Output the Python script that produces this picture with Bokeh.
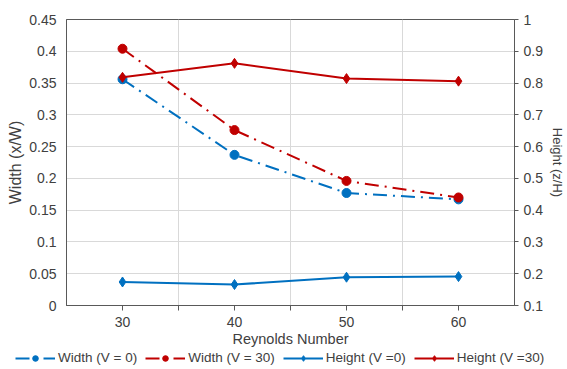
from bokeh.plotting import figure
from bokeh.models import (Range1d, LinearAxis, FixedTicker, Legend, LegendItem,
                          CustomJSTickFormatter)
from bokeh.embed import file_html
from bokeh.resources import INLINE

# ---- data ----
reynolds = [30, 40, 50, 60]
width_v0 = [0.356, 0.237, 0.177, 0.167]
width_v30 = [0.404, 0.276, 0.196, 0.170]
height_v0 = [0.174, 0.166, 0.189, 0.191]
height_v30 = [0.818, 0.862, 0.814, 0.806]

left_ticks = [0, 0.05, 0.1, 0.15, 0.2, 0.25, 0.3, 0.35, 0.4, 0.45]
right_ticks = [0.1, 0.2, 0.3, 0.4, 0.5, 0.6, 0.7, 0.8, 0.9, 1.0]
x_major = [30, 40, 50, 60]
x_minor = [35, 45, 55]
labels = ["Width (V = 0)", "Width (V = 30)", "Height (V =0)", "Height (V =30)"]

BLUE = "#0070C0"
RED = "#C00000"
TXT = "#404040"
AX = "#595959"
FONT = "Liberation Sans"
DASH = "14 6 2 6"

p = figure(width=567, height=350, output_backend="svg",
           toolbar_location=None, x_range=Range1d(25, 65), y_range=Range1d(0, 0.45),
           min_border_left=66, min_border_right=51, min_border_top=19, min_border_bottom=45)
p.extra_y_ranges = {"h": Range1d(0.1, 1.0)}

fmt = CustomJSTickFormatter(code="return String(Number(tick.toFixed(3)));")

# x axis
xa = p.xaxis[0]
xa.ticker = FixedTicker(ticks=x_major, minor_ticks=x_minor)
xa.axis_label = "Reynolds Number"
xa.axis_label_text_font = FONT
xa.axis_label_text_font_size = "14.5px"
xa.axis_label_text_font_style = "normal"
xa.axis_label_text_color = TXT
xa.axis_label_standoff = 1
xa.major_label_text_font = FONT
xa.major_label_text_font_size = "14px"
xa.major_label_text_color = TXT
xa.major_label_standoff = 6
xa.major_tick_in = 0
xa.major_tick_out = 5
xa.minor_tick_in = 0
xa.minor_tick_out = 5
xa.axis_line_color = AX
xa.major_tick_line_color = AX
xa.minor_tick_line_color = AX

# left axis
ya = p.yaxis[0]
ya.ticker = FixedTicker(ticks=left_ticks, minor_ticks=[])
ya.formatter = fmt
ya.axis_label = "Width (x/W)"
ya.axis_label_text_font = FONT
ya.axis_label_text_font_size = "16px"
ya.axis_label_text_font_style = "normal"
ya.axis_label_text_color = TXT
ya.axis_label_standoff = 2
ya.major_label_text_font = FONT
ya.major_label_text_font_size = "14px"
ya.major_label_text_color = TXT
ya.major_label_standoff = 10
ya.major_tick_in = 0
ya.major_tick_out = 0
ya.axis_line_color = AX

# right axis
ra = LinearAxis(y_range_name="h")
ra.ticker = FixedTicker(ticks=right_ticks, minor_ticks=[])
ra.formatter = fmt
ra.axis_label = "Height (z/H)"
ra.axis_label_text_font = FONT
ra.axis_label_text_font_size = "13px"
ra.axis_label_text_font_style = "normal"
ra.axis_label_text_color = TXT
ra.axis_label_standoff = 4
ra.major_label_text_font = FONT
ra.major_label_text_font_size = "14px"
ra.major_label_text_color = TXT
ra.major_label_standoff = 5
ra.major_tick_in = 0
ra.major_tick_out = 4
ra.axis_line_color = AX
ra.major_tick_line_color = AX
p.add_layout(ra, "right")

# grids
p.xgrid.ticker = FixedTicker(ticks=x_minor)
p.ygrid.ticker = FixedTicker(ticks=left_ticks)
p.xgrid.grid_line_color = "#d9d9d9"
p.ygrid.grid_line_color = "#d9d9d9"
p.outline_line_color = AX
p.outline_line_alpha = 1

p.line(reynolds, width_v0, line_color=BLUE, line_width=2, line_dash=DASH)
p.scatter(reynolds, width_v0, marker="circle", size=9, fill_color=BLUE, line_color=BLUE)
p.line(reynolds, width_v30, line_color=RED, line_width=2, line_dash=DASH)
p.scatter(reynolds, width_v30, marker="circle", size=9, fill_color=RED, line_color=RED)
p.line(reynolds, height_v0, line_color=BLUE, line_width=2, y_range_name="h")
p.scatter(reynolds, height_v0, marker="diamond", size=10, fill_color=BLUE, line_color=BLUE,
          y_range_name="h")
p.line(reynolds, height_v30, line_color=RED, line_width=2, y_range_name="h")
p.scatter(reynolds, height_v30, marker="diamond", size=10, fill_color=RED, line_color=RED,
          y_range_name="h")

# ---- legend strip: separate root (same series drawn off-view, only legend shows) ----
lg = figure(width=567, height=17, output_backend="svg", toolbar_location=None,
            x_range=Range1d(0, 1), y_range=Range1d(0, 1),
            x_axis_location=None, y_axis_location=None, min_border=0)
lg.outline_line_color = None
lg.grid.visible = False
g1 = lg.line(reynolds, width_v0, line_color=BLUE, line_width=2, line_dash=DASH)
s1 = lg.scatter(reynolds, width_v0, marker="circle", size=9, fill_color=BLUE, line_color=BLUE)
g2 = lg.line(reynolds, width_v30, line_color=RED, line_width=2, line_dash=DASH)
s2 = lg.scatter(reynolds, width_v30, marker="circle", size=9, fill_color=RED, line_color=RED)
g3 = lg.line(reynolds, height_v0, line_color=BLUE, line_width=2)
s3 = lg.scatter(reynolds, height_v0, marker="diamond", size=10, fill_color=BLUE, line_color=BLUE)
g4 = lg.line(reynolds, height_v30, line_color=RED, line_width=2)
s4 = lg.scatter(reynolds, height_v30, marker="diamond", size=10, fill_color=RED, line_color=RED)

legend = Legend(items=[
    LegendItem(label=labels[0], renderers=[g1, s1]),
    LegendItem(label=labels[1], renderers=[g2, s2]),
    LegendItem(label=labels[2], renderers=[g3, s3]),
    LegendItem(label=labels[3], renderers=[g4, s4]),
], orientation="horizontal", location=(15, 2))
legend.label_text_font = FONT
legend.label_text_font_size = "13.5px"
legend.label_text_color = TXT
legend.glyph_width = 40
legend.glyph_height = 14
legend.label_height = 14
legend.label_standoff = 3
legend.spacing = 8
legend.padding = 0
legend.margin = 0
legend.border_line_color = None
legend.background_fill_alpha = 0
lg.add_layout(legend, "center")

open("out.html", "w").write(file_html([p, lg], INLINE))
